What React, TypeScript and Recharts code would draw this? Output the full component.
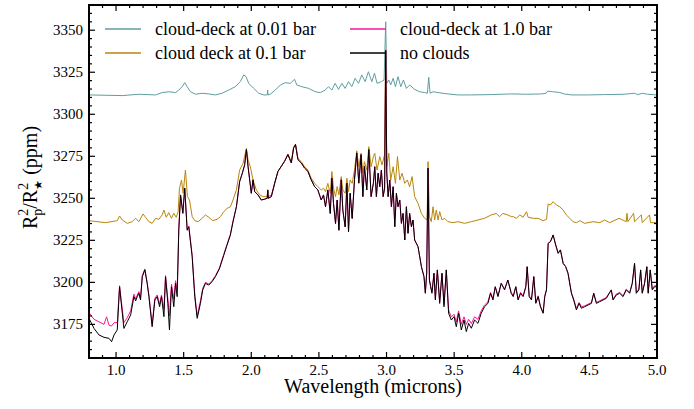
import React from 'react';
import { LineChart, Line, XAxis, YAxis } from 'recharts';

// transit depth spectra, wavelength in microns vs ppm
const noClouds: [number, number][] = [
  [0.8, 3178.6], [0.837, 3172.6], [0.874, 3168.7], [0.911, 3167.3], [0.948, 3166.7], [0.967, 3164.7],
  [0.985, 3168.7], [1.009, 3171.7], [1.026, 3197.4], [1.036, 3189.5], [1.058, 3172.6], [1.083, 3176.6],
  [1.108, 3180.6], [1.132, 3191.5], [1.145, 3189], [1.157, 3191.5], [1.169, 3193.5], [1.181, 3189.5],
  [1.194, 3203.4], [1.213, 3207.4], [1.23, 3199.4], [1.243, 3191.5], [1.267, 3173.6], [1.287, 3189.5],
  [1.304, 3191.5], [1.322, 3185.5], [1.336, 3191.5], [1.354, 3179.6], [1.366, 3203.4], [1.383, 3187.5],
  [1.395, 3171.7], [1.41, 3197.4], [1.427, 3185.5], [1.44, 3199.4], [1.452, 3191.5], [1.464, 3231.2],
  [1.477, 3252], [1.494, 3241], [1.508, 3256], [1.526, 3231], [1.538, 3233], [1.563, 3215.3],
  [1.582, 3191.5], [1.6, 3178.6], [1.624, 3187.5], [1.641, 3195.5], [1.661, 3199.4], [1.686, 3198.4],
  [1.71, 3200.4], [1.735, 3203.4], [1.764, 3208], [1.796, 3216], [1.82, 3222], [1.845, 3228],
  [1.865, 3236], [1.89, 3245], [1.914, 3260], [1.934, 3265], [1.951, 3270], [1.964, 3279],
  [1.976, 3269], [1.988, 3261], [2.0, 3253], [2.013, 3261], [2.025, 3254], [2.05, 3252],
  [2.074, 3249], [2.099, 3249.5], [2.118, 3250], [2.122, 3255], [2.126, 3250], [2.148, 3251],
  [2.173, 3259], [2.197, 3266], [2.222, 3269], [2.246, 3272], [2.271, 3276], [2.296, 3271],
  [2.313, 3280], [2.327, 3282], [2.345, 3273], [2.37, 3271], [2.394, 3268], [2.419, 3266],
  [2.443, 3261], [2.468, 3257], [2.492, 3255], [2.517, 3249], [2.534, 3252], [2.549, 3245],
  [2.566, 3255], [2.584, 3241], [2.596, 3262], [2.608, 3247], [2.623, 3235], [2.635, 3249],
  [2.648, 3231], [2.665, 3261], [2.677, 3243], [2.694, 3233], [2.707, 3259], [2.719, 3230],
  [2.731, 3253], [2.746, 3238], [2.763, 3261], [2.78, 3277], [2.795, 3259], [2.812, 3276],
  [2.825, 3251], [2.837, 3269], [2.854, 3255], [2.869, 3279], [2.886, 3251], [2.903, 3259],
  [2.913, 3268.8], [2.925, 3251], [2.938, 3264.9], [2.95, 3256.9], [2.962, 3266.8], [2.975, 3251],
  [2.986, 3256], [2.994, 3338], [3.002, 3265], [3.012, 3251], [3.024, 3260.9], [3.036, 3245],
  [3.049, 3256.9], [3.061, 3233.1], [3.073, 3253], [3.085, 3245], [3.098, 3249], [3.11, 3235.1],
  [3.122, 3241], [3.135, 3225.2], [3.147, 3245], [3.159, 3229.2], [3.171, 3241], [3.184, 3233.1],
  [3.196, 3237.1], [3.208, 3225.2], [3.233, 3221.2], [3.258, 3209.3], [3.277, 3203.4], [3.287, 3193.5],
  [3.297, 3205.4], [3.307, 3268], [3.317, 3201.4], [3.326, 3197.4], [3.336, 3193.5], [3.351, 3205.4],
  [3.361, 3189.5], [3.376, 3207.4], [3.393, 3187.5], [3.41, 3205.4], [3.425, 3185.5], [3.442, 3207.4],
  [3.459, 3181.6], [3.479, 3177.6], [3.499, 3179.6], [3.516, 3173.6], [3.533, 3181.6], [3.553, 3171.7],
  [3.573, 3177.6], [3.59, 3170.7], [3.607, 3175.6], [3.627, 3172.7], [3.651, 3177.6], [3.676, 3175.6],
  [3.7, 3181.6], [3.725, 3185.5], [3.75, 3187.5], [3.769, 3193.5], [3.787, 3189.5], [3.804, 3197.4],
  [3.824, 3191.5], [3.848, 3199.4], [3.873, 3195.5], [3.897, 3201.4], [3.922, 3193.5], [3.937, 3191.5],
  [3.956, 3197.4], [3.973, 3189.5], [3.991, 3193.5], [4.01, 3191.5], [4.03, 3197.4], [4.04, 3209.3],
  [4.055, 3191.5], [4.072, 3189.5], [4.089, 3203.4], [4.104, 3187.5], [4.121, 3191.5], [4.138, 3185.5],
  [4.158, 3181.6], [4.17, 3191.5], [4.183, 3195.5], [4.195, 3223.2], [4.212, 3224.2], [4.232, 3228.2],
  [4.251, 3222.2], [4.269, 3217.3], [4.286, 3219.3], [4.306, 3211.3], [4.325, 3209.3], [4.342, 3205.4],
  [4.367, 3193.5], [4.384, 3189.5], [4.404, 3183.6], [4.424, 3187.5], [4.441, 3184.6], [4.465, 3185.5],
  [4.49, 3186.5], [4.515, 3187.5], [4.532, 3193.5], [4.552, 3187.5], [4.576, 3188.5], [4.601, 3189.5],
  [4.625, 3190.5], [4.662, 3195.5], [4.675, 3189.5], [4.699, 3192.5], [4.724, 3193.5], [4.749, 3191.5],
  [4.773, 3195.5], [4.798, 3193.5], [4.817, 3199.4], [4.834, 3211.3], [4.847, 3193.5], [4.866, 3195.5],
  [4.879, 3207.4], [4.891, 3193.5], [4.908, 3199.4], [4.925, 3209.3], [4.935, 3193.5], [4.95, 3207.4],
  [4.965, 3195.5], [4.982, 3197.4], [5.0, 3197.4],
];

const deck1bar: [number, number][] = [
  [0.8, 3182], [0.837, 3178], [0.874, 3176.5], [0.911, 3175], [0.93, 3179.5], [0.948, 3174.5],
  [0.967, 3174], [0.985, 3176], [1.009, 3176], [1.026, 3198], [1.036, 3191], [1.058, 3176],
  [1.083, 3179], [1.108, 3183], [1.132, 3193], [1.145, 3190], [1.157, 3192.5], [1.169, 3194.5],
  [1.181, 3190.5], [1.194, 3204], [1.213, 3208], [1.23, 3200], [1.243, 3192.5], [1.267, 3175],
  [1.287, 3190.5], [1.304, 3192.5], [1.322, 3187], [1.336, 3192.5], [1.354, 3184], [1.366, 3204],
  [1.383, 3190], [1.395, 3180], [1.41, 3199], [1.427, 3190], [1.44, 3201], [1.452, 3196],
  [1.464, 3232], [1.477, 3252], [1.494, 3241.5], [1.508, 3256], [1.526, 3231.5], [1.538, 3233.5],
  [1.563, 3216], [1.582, 3193], [1.6, 3180], [1.624, 3189], [1.641, 3196.5], [1.661, 3200],
  [1.686, 3199], [1.71, 3201], [1.735, 3204], [1.764, 3208.5], [1.796, 3216.5], [1.82, 3222.5],
  [1.845, 3228.5], [1.865, 3236.5], [1.89, 3245], [1.914, 3260], [1.934, 3265], [1.951, 3270],
  [1.964, 3279], [1.976, 3269], [1.988, 3261], [2.0, 3253], [2.013, 3261], [2.025, 3254],
  [2.05, 3252], [2.074, 3249], [2.099, 3249.5], [2.118, 3250], [2.122, 3255], [2.126, 3250],
  [2.148, 3251], [2.173, 3259], [2.197, 3266], [2.222, 3269], [2.246, 3272], [2.271, 3276],
  [2.296, 3271], [2.313, 3280], [2.327, 3282], [2.345, 3273], [2.37, 3271], [2.394, 3268],
  [2.419, 3266], [2.443, 3261], [2.468, 3257], [2.492, 3255], [2.517, 3249], [2.534, 3252],
  [2.549, 3245], [2.566, 3255], [2.584, 3241], [2.596, 3262], [2.608, 3247], [2.623, 3235],
  [2.635, 3249], [2.648, 3231], [2.665, 3261], [2.677, 3243], [2.694, 3233], [2.707, 3259],
  [2.719, 3230], [2.731, 3253], [2.746, 3238], [2.763, 3261], [2.78, 3277], [2.795, 3259],
  [2.812, 3276], [2.825, 3251], [2.837, 3269], [2.854, 3255], [2.869, 3279], [2.886, 3251],
  [2.903, 3259], [2.913, 3268.8], [2.925, 3251], [2.938, 3264.9], [2.95, 3256.9], [2.962, 3266.8],
  [2.975, 3251], [2.986, 3256], [2.994, 3338], [3.002, 3265], [3.012, 3251], [3.024, 3260.9],
  [3.036, 3245], [3.049, 3256.9], [3.061, 3233.1], [3.073, 3253], [3.085, 3245], [3.098, 3249],
  [3.11, 3235.1], [3.122, 3241], [3.135, 3225.2], [3.147, 3245], [3.159, 3229.2], [3.171, 3241],
  [3.184, 3233.1], [3.196, 3237.1], [3.208, 3225.2], [3.233, 3221.2], [3.258, 3209.3], [3.277, 3203.4],
  [3.287, 3194], [3.297, 3205.4], [3.307, 3268], [3.317, 3201.4], [3.326, 3198], [3.336, 3194.5],
  [3.351, 3205.4], [3.361, 3190.5], [3.376, 3207.4], [3.393, 3188.5], [3.41, 3205.4], [3.425, 3187],
  [3.442, 3207.4], [3.459, 3183.5], [3.479, 3179.5], [3.499, 3181], [3.516, 3176.5], [3.533, 3183],
  [3.553, 3175], [3.573, 3179.5], [3.59, 3175], [3.607, 3178], [3.627, 3175.5], [3.651, 3179.5],
  [3.676, 3178], [3.7, 3183], [3.725, 3186.5], [3.75, 3188.5], [3.769, 3194], [3.787, 3190.5],
  [3.804, 3197.4], [3.824, 3192], [3.848, 3199.4], [3.873, 3196], [3.897, 3201.4], [3.922, 3194],
  [3.937, 3192], [3.956, 3197.4], [3.973, 3190], [3.991, 3194], [4.01, 3192], [4.03, 3197.4],
  [4.04, 3209.3], [4.055, 3192], [4.072, 3190], [4.089, 3203.4], [4.104, 3188], [4.121, 3192],
  [4.138, 3186], [4.158, 3182], [4.17, 3192], [4.183, 3196], [4.195, 3223.2], [4.212, 3224.2],
  [4.232, 3228.2], [4.251, 3222.2], [4.269, 3217.3], [4.286, 3219.3], [4.306, 3211.3], [4.325, 3209.3],
  [4.342, 3205.4], [4.367, 3194], [4.384, 3190], [4.404, 3184.5], [4.424, 3188], [4.441, 3185.5],
  [4.465, 3186], [4.49, 3187], [4.515, 3188], [4.532, 3193.5], [4.552, 3188], [4.576, 3189],
  [4.601, 3190], [4.625, 3191], [4.662, 3195.5], [4.675, 3190], [4.699, 3193], [4.724, 3194],
  [4.749, 3192], [4.773, 3196], [4.798, 3194], [4.817, 3199.4], [4.834, 3211.3], [4.847, 3194],
  [4.866, 3196], [4.879, 3207.4], [4.891, 3194], [4.908, 3199.4], [4.925, 3209.3], [4.935, 3194],
  [4.95, 3207.4], [4.965, 3196], [4.982, 3198], [5.0, 3198],
];

const deck01bar: [number, number][] = [
  [0.8, 3236.7], [0.923, 3235.5], [1.009, 3236.7], [1.026, 3239.5], [1.046, 3237.1], [1.083, 3235.1],
  [1.12, 3236.1], [1.144, 3238.1], [1.169, 3236.1], [1.2, 3240.7], [1.218, 3238.7], [1.243, 3236.1],
  [1.267, 3235.1], [1.292, 3238.1], [1.317, 3237.5], [1.341, 3240.1], [1.354, 3243], [1.371, 3238.7],
  [1.39, 3241.5], [1.41, 3238.1], [1.427, 3241.1], [1.445, 3238.7], [1.459, 3242], [1.469, 3256],
  [1.484, 3260.9], [1.496, 3253], [1.513, 3266.8], [1.528, 3251], [1.543, 3249], [1.563, 3239.1],
  [1.582, 3236.7], [1.607, 3236.1], [1.636, 3238.1], [1.661, 3240.1], [1.686, 3238.7], [1.715, 3236.7],
  [1.747, 3237.5], [1.772, 3239.1], [1.796, 3242], [1.821, 3244], [1.846, 3245], [1.865, 3249],
  [1.89, 3255], [1.914, 3266.8], [1.939, 3270.8], [1.964, 3279.7], [1.976, 3272.8], [1.993, 3268.8],
  [2.013, 3260.9], [2.037, 3255], [2.062, 3252], [2.087, 3251], [2.116, 3251], [2.121, 3254],
  [2.126, 3251], [2.15, 3252], [2.173, 3258.9], [2.197, 3265.9], [2.222, 3269.2], [2.246, 3272.2],
  [2.271, 3276.4], [2.296, 3271.8], [2.313, 3280.3], [2.327, 3282.3], [2.345, 3273.8], [2.37, 3271.8],
  [2.394, 3268.8], [2.419, 3266.8], [2.443, 3261.9], [2.468, 3258.9], [2.492, 3257], [2.517, 3255],
  [2.534, 3256], [2.549, 3254], [2.566, 3258.9], [2.584, 3253], [2.596, 3265.9], [2.608, 3256],
  [2.623, 3251], [2.635, 3257], [2.648, 3252], [2.665, 3262.9], [2.677, 3255], [2.694, 3253],
  [2.707, 3261.9], [2.719, 3254], [2.731, 3260.9], [2.746, 3258.9], [2.763, 3266.8], [2.78, 3278.3],
  [2.795, 3268.8], [2.812, 3276.8], [2.825, 3264.9], [2.837, 3271.8], [2.854, 3266.8], [2.869, 3280.7],
  [2.886, 3268.8], [2.903, 3274.8], [2.913, 3276.8], [2.93, 3266.8], [2.95, 3274.8], [2.967, 3269.8],
  [2.985, 3275.8], [2.994, 3338], [3.002, 3268.8], [3.017, 3276.8], [3.031, 3260.9], [3.049, 3268.8],
  [3.066, 3258.9], [3.081, 3274.8], [3.098, 3260.9], [3.115, 3264.9], [3.135, 3258.9], [3.154, 3260.9],
  [3.171, 3256.9], [3.189, 3262.9], [3.208, 3251], [3.233, 3247], [3.258, 3241], [3.282, 3238.1],
  [3.3, 3237.1], [3.307, 3271.8], [3.317, 3239.1], [3.331, 3236.1], [3.344, 3245], [3.356, 3237.1],
  [3.368, 3243], [3.381, 3237.1], [3.393, 3242.1], [3.41, 3237.1], [3.43, 3238.1], [3.454, 3236.1],
  [3.491, 3235.5], [3.528, 3236.1], [3.578, 3235.1], [3.627, 3236.1], [3.676, 3237.1], [3.725, 3238.1],
  [3.774, 3240.1], [3.811, 3241], [3.836, 3239.1], [3.86, 3241], [3.897, 3240.1], [3.922, 3239.1],
  [3.937, 3239.1], [3.96, 3238.1], [3.986, 3240.1], [4.01, 3238.7], [4.035, 3242], [4.047, 3238.7],
  [4.084, 3238.1], [4.121, 3238.1], [4.158, 3236.7], [4.183, 3237.5], [4.195, 3246.6], [4.212, 3246],
  [4.232, 3248], [4.256, 3246], [4.281, 3245], [4.306, 3243], [4.33, 3240.1], [4.355, 3238.1],
  [4.379, 3236.1], [4.404, 3235.5], [4.429, 3236.7], [4.465, 3235.1], [4.527, 3236.1], [4.576, 3235.5],
  [4.613, 3237.1], [4.65, 3235.5], [4.719, 3238.1], [4.773, 3236.1], [4.778, 3241.1], [4.785, 3236.1],
  [4.827, 3241.1], [4.834, 3236.1], [4.884, 3240.1], [4.891, 3235.5], [4.945, 3240.1], [4.952, 3235.5],
  [5.0, 3235.5],
];

const deck001bar: [number, number][] = [
  [0.8, 3311.5], [1.046, 3311.1], [1.169, 3311.9], [1.292, 3311.5], [1.341, 3312.9], [1.39, 3313.4],
  [1.44, 3312.9], [1.464, 3314.4], [1.489, 3316.4], [1.508, 3318.8], [1.526, 3316.4], [1.55, 3313.4],
  [1.587, 3311.9], [1.636, 3312.5], [1.686, 3312.1], [1.735, 3311.5], [1.784, 3312.5], [1.833, 3314.4],
  [1.882, 3316.4], [1.919, 3319.4], [1.944, 3323.4], [1.961, 3322.4], [1.981, 3318.4], [2.018, 3315.4],
  [2.055, 3312.5], [2.092, 3311.5], [2.118, 3311.5], [2.121, 3314.4], [2.124, 3311.5], [2.14, 3311.9],
  [2.178, 3314.4], [2.215, 3317.4], [2.251, 3318.8], [2.288, 3318.4], [2.32, 3320.8], [2.337, 3317.4],
  [2.374, 3316.4], [2.424, 3315.4], [2.473, 3313.4], [2.51, 3312.9], [2.547, 3314.4], [2.571, 3316.4],
  [2.596, 3314.4], [2.62, 3318.4], [2.645, 3314.8], [2.67, 3318.4], [2.694, 3315.4], [2.719, 3319.4],
  [2.743, 3316.4], [2.768, 3321.4], [2.793, 3318.4], [2.817, 3323.4], [2.842, 3319.4], [2.866, 3325.3],
  [2.891, 3319.4], [2.911, 3324.4], [2.93, 3318.4], [2.962, 3319.4], [2.982, 3320.4], [2.994, 3355],
  [3.002, 3318.4], [3.017, 3320.4], [3.031, 3317.4], [3.049, 3321.4], [3.066, 3316.4], [3.085, 3322.4],
  [3.105, 3316.4], [3.125, 3320.4], [3.147, 3315.4], [3.171, 3317.4], [3.208, 3314.8], [3.245, 3313.4],
  [3.282, 3312.9], [3.302, 3312.5], [3.312, 3322], [3.322, 3312.5], [3.344, 3313.4], [3.381, 3312.9],
  [3.418, 3312.5], [3.454, 3312.1], [3.528, 3311.5], [3.627, 3311.5], [3.774, 3311.7], [3.922, 3312.1],
  [4.045, 3311.9], [4.143, 3312.1], [4.18, 3312.5], [4.192, 3313.8], [4.229, 3313.4], [4.278, 3313],
  [4.315, 3312.1], [4.365, 3311.5], [4.488, 3311.5], [4.611, 3311.7], [4.758, 3311.9], [4.832, 3312.5],
  [4.857, 3311.7], [4.894, 3312.5], [4.93, 3311.9], [5.0, 3311.5],
];

const toRows = (pts: [number, number][]) => pts.map(([wl, ppm]) => ({ wl, ppm }));

const X_DOMAIN: [number, number] = [0.8, 5.0];
const Y_DOMAIN: [number, number] = [3155, 3365];
const X_MAJOR = [1.0, 1.5, 2.0, 2.5, 3.0, 3.5, 4.0, 4.5, 5.0];
const X_MINOR = Array.from({ length: 42 }, (_, i) => (9 + i) / 10);
const Y_MAJOR = [3175, 3200, 3225, 3250, 3275, 3300, 3325, 3350];
const Y_MINOR = Array.from({ length: 41 }, (_, i) => 3160 + 5 * i);

const W = 694;
const H = 409;
const MARGIN = { top: 5, right: 37, bottom: 21, left: 29 };
const Y_AXIS_W = 60;
const X_AXIS_H = 30;
const PLOT_X = MARGIN.left + Y_AXIS_W;
const PLOT_Y = MARGIN.top;
const PLOT_W = W - MARGIN.left - MARGIN.right - Y_AXIS_W;
const PLOT_H = H - MARGIN.top - MARGIN.bottom - X_AXIS_H;

const FONT = 'Liberation Serif, Times New Roman, serif';

const SERIES = [
  { key: 'c001', name: 'cloud-deck at 0.01 bar', color: '#5f9ea0', data: deck001bar },
  { key: 'c01', name: 'cloud deck at 0.1 bar', color: '#b8860b', data: deck01bar },
  { key: 'c1', name: 'cloud-deck at 1.0 bar', color: '#ff1493', data: deck1bar },
  { key: 'none', name: 'no clouds', color: '#000000', data: noClouds },
];

function XTickLabel({ x, y, payload }: any) {
  return (
    <text x={x} y={y + 17} textAnchor="middle" fontSize={15} fontFamily={FONT} fill="#000">
      {(payload.value as number).toFixed(1)}
    </text>
  );
}

function YTickLabel({ x, y, payload }: any) {
  return (
    <text x={x - 6} y={y + 5} textAnchor="end" fontSize={15} fontFamily={FONT} fill="#000">
      {payload.value}
    </text>
  );
}

function XTitle({ viewBox }: any) {
  const vb = viewBox || { x: PLOT_X, y: PLOT_Y + PLOT_H, width: PLOT_W };
  return (
    <text x={vb.x + vb.width / 2} y={vb.y + 35} textAnchor="middle" fontSize={20} fontFamily={FONT} fill="#000">
      Wavelength (microns)
    </text>
  );
}

function YTitle({ viewBox }: any) {
  const vb = viewBox || { x: MARGIN.left, y: PLOT_Y, height: PLOT_H };
  const cx = vb.x + 8;
  const cy = vb.y + vb.height / 2 - 4;
  return (
    <text transform={`translate(${cx},${cy}) rotate(-90)`} textAnchor="middle" fontSize={20} fontFamily={FONT} fill="#000">
      R
      <tspan fontSize={14} dy={-9}>2</tspan>
      <tspan fontSize={14} dx={-7} dy={14}>p</tspan>
      <tspan dy={-5}>/R</tspan>
      <tspan fontSize={14} dy={-9}>2</tspan>
      <tspan fontSize={11} dx={-7} dy={14}>★</tspan>
      <tspan dy={-5}>{' (ppm)'}</tspan>
    </text>
  );
}

// box around the plot with inward ticks on all four sides (matplotlib style)
function Frame() {
  const sx = (v: number) => PLOT_X + ((v - X_DOMAIN[0]) / (X_DOMAIN[1] - X_DOMAIN[0])) * PLOT_W;
  const sy = (v: number) => PLOT_Y + ((Y_DOMAIN[1] - v) / (Y_DOMAIN[1] - Y_DOMAIN[0])) * PLOT_H;
  const bottom = PLOT_Y + PLOT_H;
  const right = PLOT_X + PLOT_W;
  const xLen = (v: number) => (X_MAJOR.some((m) => Math.abs(m - v) < 1e-6) ? 6 : 3);
  const yLen = (v: number) => (Y_MAJOR.includes(v) ? 6 : 3);
  return (
    <g>
      {X_MINOR.map((v) => (
        <g key={`x${v}`}>
          <line x1={sx(v)} x2={sx(v)} y1={bottom} y2={bottom - xLen(v)} stroke="#000" strokeWidth={1.2} />
          <line x1={sx(v)} x2={sx(v)} y1={PLOT_Y} y2={PLOT_Y + xLen(v)} stroke="#000" strokeWidth={1.2} />
        </g>
      ))}
      {Y_MINOR.map((v) => (
        <g key={`y${v}`}>
          <line x1={PLOT_X} x2={PLOT_X + yLen(v)} y1={sy(v)} y2={sy(v)} stroke="#000" strokeWidth={1.2} />
          <line x1={right} x2={right - yLen(v)} y1={sy(v)} y2={sy(v)} stroke="#000" strokeWidth={1.2} />
        </g>
      ))}
      <rect x={PLOT_X} y={PLOT_Y} width={PLOT_W} height={PLOT_H} fill="none" stroke="#000" strokeWidth={2} />
    </g>
  );
}

// two columns, drawn over the plot the way the figure has it
const LEGEND_POS = [
  { lineX: 105, textX: 155, y: 29 },
  { lineX: 105, textX: 155, y: 53 },
  { lineX: 350, textX: 400, y: 29 },
  { lineX: 350, textX: 400, y: 53 },
];

function LegendBox() {
  return (
    <g>
      {SERIES.map((s, i) => {
        const p = LEGEND_POS[i];
        return (
          <g key={s.key}>
            <line x1={p.lineX} x2={p.lineX + 36} y1={p.y} y2={p.y} stroke={s.color} strokeWidth={1.5} />
            <text x={p.textX} y={p.y + 6} fontSize={18} fontFamily={FONT} fill="#000">
              {s.name}
            </text>
          </g>
        );
      })}
    </g>
  );
}

export default function App() {
  return (
    <div style={{ position: 'absolute', left: 0, top: 0, width: W, height: H, background: '#fff' }}>
      <LineChart width={W} height={H} margin={MARGIN}>
        <XAxis
          type="number"
          dataKey="wl"
          domain={X_DOMAIN}
          ticks={X_MAJOR}
          interval={0}
          height={X_AXIS_H}
          tickSize={0}
          tickMargin={0}
          tickLine={false}
          axisLine={false}
          tick={<XTickLabel />}
          label={{ content: XTitle }}
        />
        <YAxis
          type="number"
          domain={Y_DOMAIN}
          ticks={Y_MAJOR}
          interval={0}
          width={Y_AXIS_W}
          tickSize={0}
          tickMargin={0}
          tickLine={false}
          axisLine={false}
          tick={<YTickLabel />}
          label={{ content: YTitle }}
        />
        {SERIES.map((s) => (
          <Line
            key={s.key}
            data={toRows(s.data)}
            dataKey="ppm"
            name={s.name}
            type="linear"
            stroke={s.color}
            strokeWidth={1}
            dot={false}
            activeDot={false}
            isAnimationActive={false}
          />
        ))}
      </LineChart>
      <svg width={W} height={H} style={{ position: 'absolute', left: 0, top: 0, pointerEvents: 'none' }}>
        <Frame />
        <LegendBox />
      </svg>
    </div>
  );
}
